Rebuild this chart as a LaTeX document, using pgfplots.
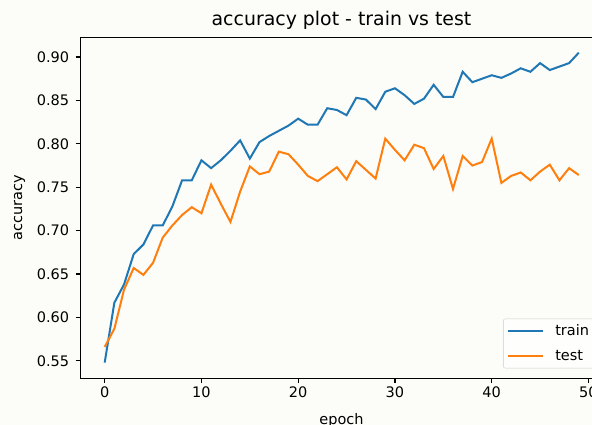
\documentclass[border=0pt]{standalone}
\usepackage{fontspec}
\setmainfont{DejaVu Sans}
\usepackage{pgfplots}
\pgfplotsset{compat=1.18}
\usepackage{pgfplotstable}
\definecolor{tabblue}{HTML}{1F77B4}
\definecolor{taborange}{HTML}{FF7F0E}
\definecolor{bgc}{RGB}{252,252,248}
\definecolor{legframe}{RGB}{204,204,204}
\pgfplotstableread{
epoch train test
0 0.548 0.566
1 0.617 0.587
2 0.638 0.632
3 0.673 0.657
4 0.684 0.649
5 0.706 0.663
6 0.706 0.692
7 0.728 0.706
8 0.758 0.718
9 0.758 0.727
10 0.781 0.720
11 0.772 0.753
12 0.781 0.731
13 0.792 0.710
14 0.804 0.745
15 0.783 0.774
16 0.802 0.765
17 0.809 0.768
18 0.815 0.791
19 0.821 0.788
20 0.829 0.776
21 0.822 0.763
22 0.822 0.757
23 0.841 0.765
24 0.839 0.773
25 0.833 0.759
26 0.853 0.780
27 0.851 0.770
28 0.840 0.760
29 0.860 0.806
30 0.864 0.793
31 0.856 0.781
32 0.846 0.799
33 0.852 0.795
34 0.868 0.771
35 0.854 0.786
36 0.854 0.748
37 0.883 0.786
38 0.871 0.775
39 0.875 0.779
40 0.879 0.806
41 0.876 0.755
42 0.881 0.763
43 0.887 0.767
44 0.883 0.758
45 0.893 0.768
46 0.885 0.776
47 0.889 0.758
48 0.893 0.772
49 0.905 0.764
}\acc
\begin{document}
\begin{tikzpicture}
\useasboundingbox (0,0) rectangle (592pt,425pt);
\fill[bgc] (0,0) rectangle (592pt,425pt);
\clip (0,0) rectangle (592pt,425pt);
\begin{axis}[
  at={(80.5pt,46.8pt)}, anchor=south west,
  scale only axis, width=522pt, height=340.7pt,
  xmin=-2.5, xmax=51.45, ymin=0.530, ymax=0.9225,
  xtick={0,10,20,30,40,50},
  ytick={0.55,0.60,0.65,0.70,0.75,0.80,0.85,0.90},
  /pgf/number format/assume math mode=true,
  tick align=outside, major tick length=4.8pt,
  tick style={black, line width=1.1pt},
  axis line style={line width=1.1pt},
  xtick pos=bottom, ytick pos=left,
  axis background/.style={fill=bgc},
  tick label style={font=\fontsize{14.5}{17}\selectfont},
  yticklabel style={xshift=-3pt, /pgf/number format/.cd, fixed, fixed zerofill, precision=2},
  label style={font=\fontsize{14.5}{17}\selectfont},
  title style={font=\fontsize{18.9}{22}\selectfont, at={(axis description cs:0.5,1)}, anchor=base, yshift=6pt},
  title={accuracy plot - train vs test},
  xlabel={epoch}, ylabel={accuracy},
  xlabel style={at={(axis description cs:0.5,0)}, anchor=base, yshift=-46.5pt},
  ylabel style={at={(axis description cs:0,0.5)}, anchor=base, yshift=58.5pt},
  legend style={at={(1,0)}, anchor=south east, xshift=-7.25pt, yshift=9.9pt,
    draw=legframe, rounded corners=2pt, fill=white, fill opacity=0.8, text opacity=1,
    font=\fontsize{14.5}{17}\selectfont, inner xsep=4pt, inner ysep=4pt, row sep=9pt, column sep=9pt},
  legend cell align=left,
  legend image code/.code={\draw[#1, line width=2pt] (0pt,0pt) -- (35pt,0pt);},
]
\addplot[tabblue, line width=2pt] table[x=epoch, y=train] {\acc};
\addlegendentry{train}
\addplot[taborange, line width=2pt] table[x=epoch, y=test] {\acc};
\addlegendentry{test}
\end{axis}
\end{tikzpicture}
\end{document}
